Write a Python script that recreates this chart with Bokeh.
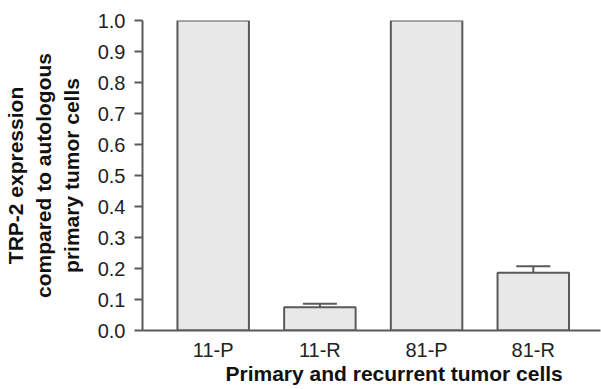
from bokeh.plotting import figure
from bokeh.models import ColumnDataSource, Range1d, FixedTicker, Whisker, TeeHead, Title
from bokeh.embed import file_html
from bokeh.resources import INLINE

categories = ["11-P", "11-R", "81-P", "81-R"]
values = [1.0, 0.075, 1.0, 0.186]
errors = [0.0, 0.011, 0.0, 0.021]
y_ticks = [0.0, 0.1, 0.2, 0.3, 0.4, 0.5, 0.6, 0.7, 0.8, 0.9, 1.0]
y_title = ["TRP-2 expression", "compared to autologous", "primary tumor cells"]
x_title = "Primary and recurrent tumor cells"

FONT = "Liberation Sans"
AX = "#5a5a5a"

xs = [i + 1 for i in range(len(categories))]
src = ColumnDataSource(dict(x=xs, top=values))
err_src = ColumnDataSource(dict(
    x=[x for x, e in zip(xs, errors) if e > 0],
    lo=[v for v, e in zip(values, errors) if e > 0],
    hi=[v + e for v, e in zip(values, errors) if e > 0],
))

p = figure(width=601, height=389, output_backend="svg", toolbar_location=None,
           x_range=Range1d(0.3375, 4.63), y_range=Range1d(0, 1.0),
           min_border_left=140, min_border_right=1, min_border_top=20, min_border_bottom=59)
p.outline_line_color = None
p.xgrid.visible = False
p.ygrid.visible = False

p.vbar(x="x", top="top", bottom=0, width=0.67, source=src,
       fill_color="#e8e8e8", line_color=AX, line_width=2)

w = Whisker(base="x", lower="lo", upper="hi", source=err_src, dimension="height",
            line_color=AX, line_width=2,
            upper_head=TeeHead(size=34, line_color=AX, line_width=2), lower_head=None)
p.add_layout(w)

# y axis
p.yaxis.ticker = FixedTicker(ticks=y_ticks)
p.yaxis.major_label_overrides = {t: f"{t:.1f}" for t in y_ticks}
p.yaxis.major_tick_out = 8
p.yaxis.major_tick_in = 0
p.yaxis.minor_tick_out = 0
p.yaxis.minor_tick_in = 0
p.yaxis.major_label_standoff = 9
p.yaxis.axis_line_color = AX
p.yaxis.axis_line_width = 2
p.yaxis.major_tick_line_color = AX
p.yaxis.major_tick_line_width = 2
p.yaxis.major_label_text_font = FONT
p.yaxis.major_label_text_font_size = "20px"
p.yaxis.major_label_text_color = "#222222"
p.yaxis.axis_label = "\n".join(y_title)
p.yaxis.axis_label_text_font = FONT
p.yaxis.axis_label_text_font_size = "21px"
p.yaxis.axis_label_text_font_style = "bold"
p.yaxis.axis_label_text_color = "#111111"
p.yaxis.axis_label_text_line_height = 1.22
p.yaxis.axis_label_standoff = 12

# x axis
p.xaxis.ticker = FixedTicker(ticks=xs)
p.xaxis.major_label_overrides = {x: c for x, c in zip(xs, categories)}
p.xaxis.major_tick_out = 0
p.xaxis.major_tick_in = 0
p.xaxis.minor_tick_out = 0
p.xaxis.minor_tick_in = 0
p.xaxis.major_label_standoff = 8
p.xaxis.axis_line_color = AX
p.xaxis.axis_line_width = 2
p.xaxis.major_label_text_font = FONT
p.xaxis.major_label_text_font_size = "20px"
p.xaxis.major_label_text_color = "#222222"

# x title
p.add_layout(Title(text=x_title, align="left", offset=83, standoff=-8,
                   text_font=FONT, text_font_size="21px", text_font_style="bold",
                   text_color="#111111"), "below")

open("out.html", "w").write(file_html(p, INLINE))
